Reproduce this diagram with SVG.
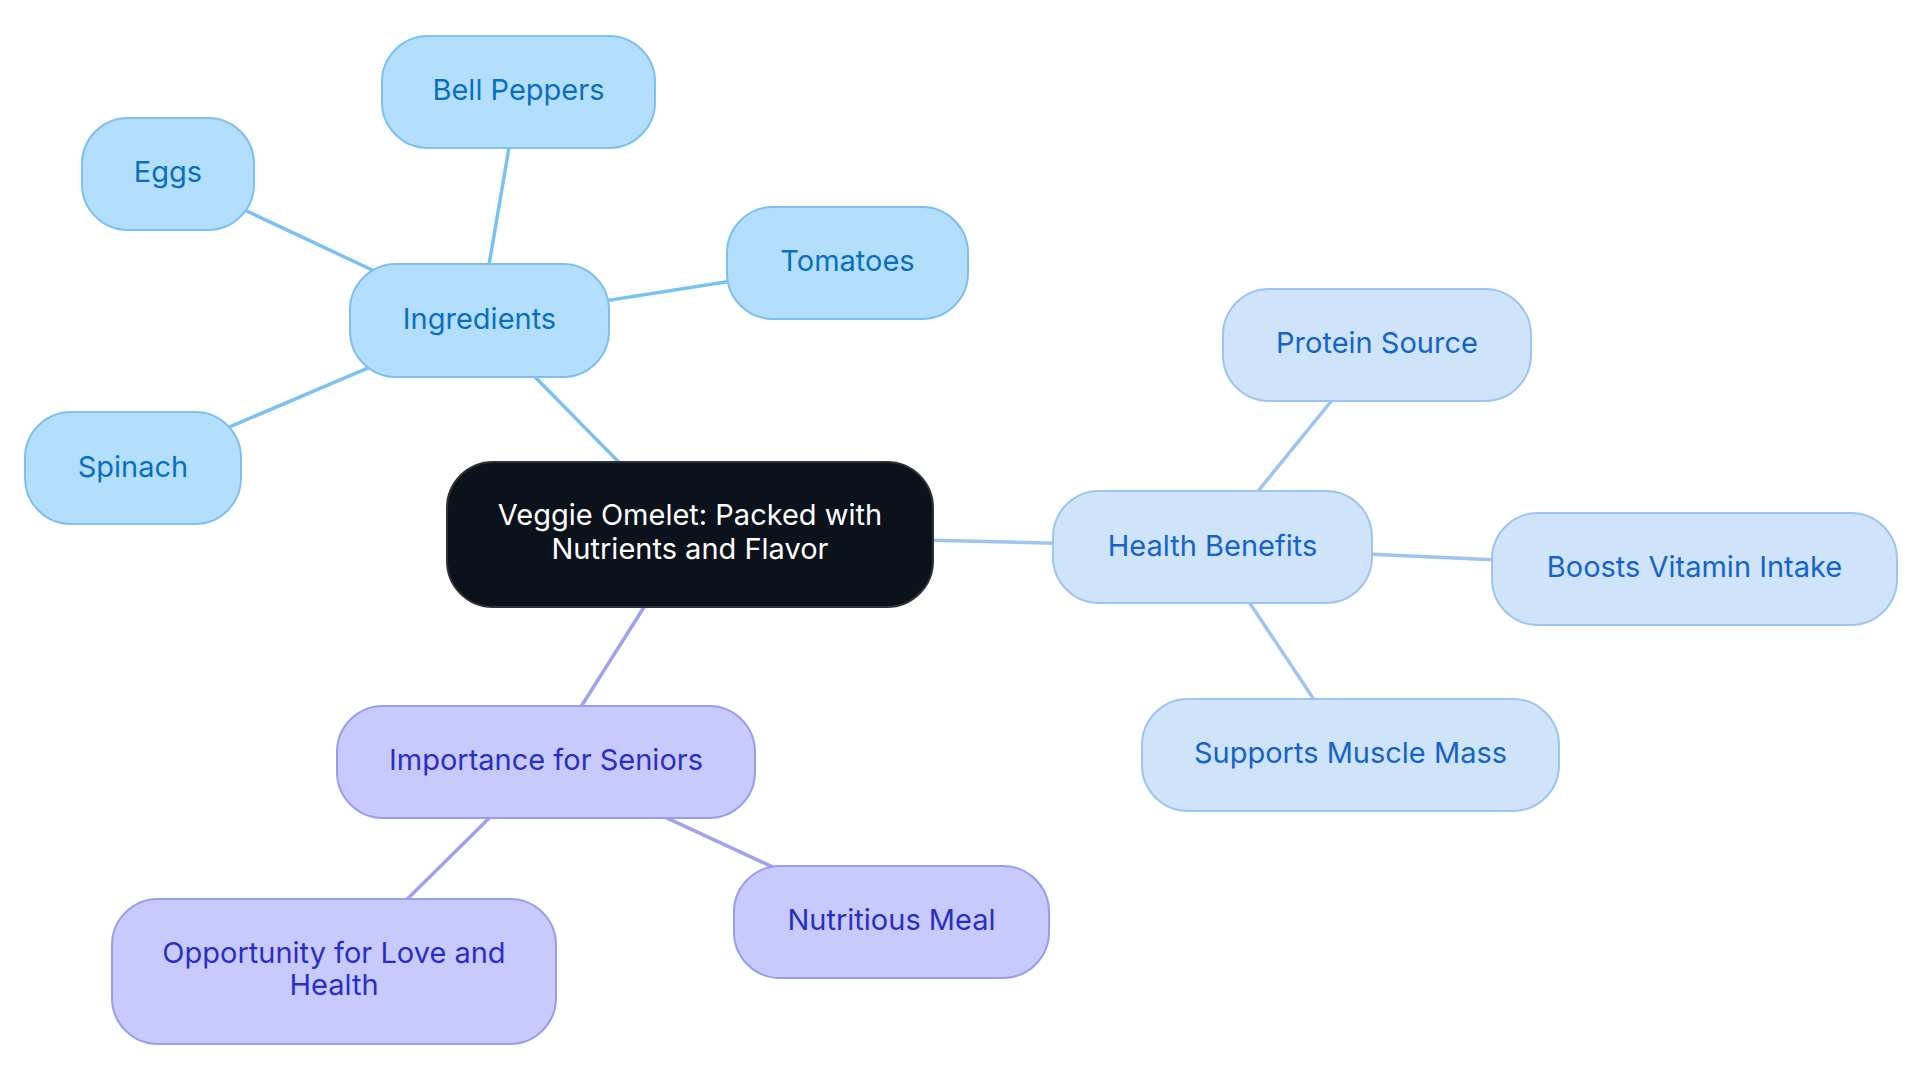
<svg xmlns="http://www.w3.org/2000/svg" width="1920" height="1083" viewBox="0 0 1920 1083">
<style>
text{font-family:Inter,"Noto Sans","Liberation Sans",sans-serif;font-size:29px;text-anchor:middle}
.n rect{stroke-width:2}
.root rect{fill:#0c121c;stroke:#2e3136}
.root text{fill:#ffffff}
.s0 rect{fill:#b3dffd;stroke:#7cbff0}
.s0 text{fill:#0b6fc0}
.s1 rect{fill:#cfe3fa;stroke:#9ec4f0}
.s1 text{fill:#1663c9}
.s2 rect{fill:#c8cafd;stroke:#9a9cef}
.s2 text{fill:#2a2fc4}
#edges line{stroke-width:3.5;stroke-linecap:round}
.e0{stroke:#7cc2f0}
.e1{stroke:#9fc5ef}
.e2{stroke:#a0a2f0}
</style>
<rect width="1920" height="1083" fill="#ffffff"/>
<g id="edges">
<line class="e0" x1="690" y1="534.5" x2="479.5" y2="320.5"/>
<line class="e0" x1="479.5" y1="320.5" x2="518.5" y2="92"/>
<line class="e0" x1="479.5" y1="320.5" x2="168" y2="174"/>
<line class="e0" x1="479.5" y1="320.5" x2="847.5" y2="263"/>
<line class="e0" x1="479.5" y1="320.5" x2="133" y2="468"/>
<line class="e1" x1="690" y1="534.5" x2="1212.5" y2="547"/>
<line class="e1" x1="1212.5" y1="547" x2="1377" y2="345"/>
<line class="e1" x1="1212.5" y1="547" x2="1694.5" y2="569"/>
<line class="e1" x1="1212.5" y1="547" x2="1350.5" y2="754.5"/>
<line class="e2" x1="690" y1="534.5" x2="546" y2="762"/>
<line class="e2" x1="546" y1="762" x2="891.5" y2="922"/>
<line class="e2" x1="546" y1="762" x2="334" y2="971.5"/>
</g>
<g id="root" class="n root"><rect x="447" y="462" width="486" height="145" rx="46"/><text x="690" y="525">Veggie Omelet: Packed with</text><text x="690" y="559">Nutrients and Flavor</text></g>
<g id="ingredients" class="n s0"><rect x="350" y="264" width="259" height="113" rx="46"/><text x="479.5" y="329">Ingredients</text></g>
<g id="bell-peppers" class="n s0"><rect x="382" y="36" width="273" height="112" rx="46"/><text x="518.5" y="100">Bell Peppers</text></g>
<g id="eggs" class="n s0"><rect x="82" y="118" width="172" height="112" rx="46"/><text x="168" y="182">Eggs</text></g>
<g id="tomatoes" class="n s0"><rect x="727" y="207" width="241" height="112" rx="46"/><text x="847.5" y="271">Tomatoes</text></g>
<g id="spinach" class="n s0"><rect x="25" y="412" width="216" height="112" rx="46"/><text x="133" y="477">Spinach</text></g>
<g id="health-benefits" class="n s1"><rect x="1053" y="491" width="319" height="112" rx="46"/><text x="1212.5" y="556">Health Benefits</text></g>
<g id="protein-source" class="n s1"><rect x="1223" y="289" width="308" height="112" rx="46"/><text x="1377" y="353">Protein Source</text></g>
<g id="boosts-vitamin" class="n s1"><rect x="1492" y="513" width="405" height="112" rx="46"/><text x="1694.5" y="577">Boosts Vitamin Intake</text></g>
<g id="supports-muscle" class="n s1"><rect x="1142" y="699" width="417" height="112" rx="46"/><text x="1350.5" y="763">Supports Muscle Mass</text></g>
<g id="importance" class="n s2"><rect x="337" y="706" width="418" height="112" rx="46"/><text x="546" y="770">Importance for Seniors</text></g>
<g id="nutritious-meal" class="n s2"><rect x="734" y="866" width="315" height="112" rx="46"/><text x="891.5" y="930">Nutritious Meal</text></g>
<g id="opportunity" class="n s2"><rect x="112" y="899" width="444" height="145" rx="46"/><text x="334" y="963">Opportunity for Love and</text><text x="334" y="995">Health</text></g>
</svg>
